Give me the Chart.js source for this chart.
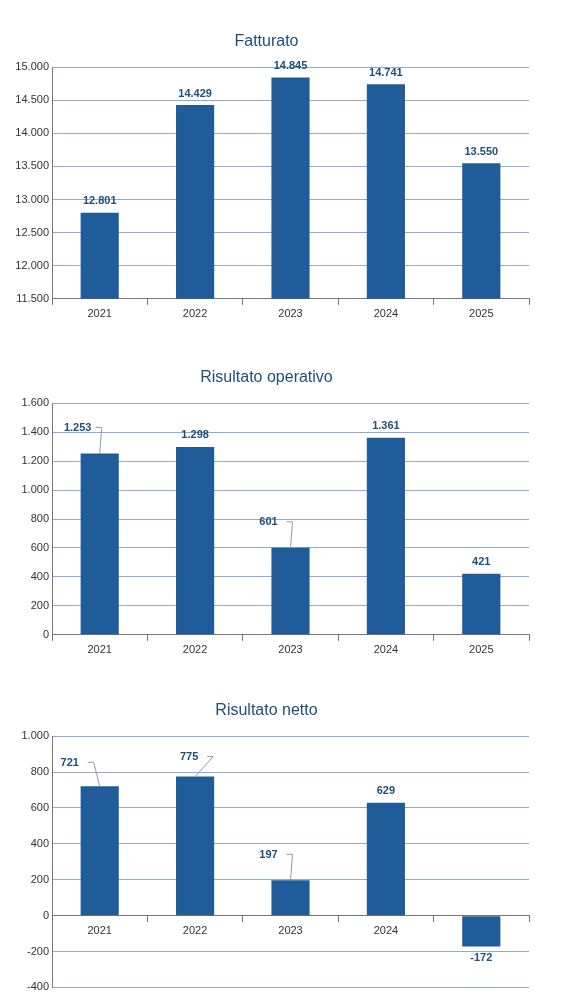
<!DOCTYPE html>
<html><head><meta charset="utf-8">
<script src="https://cdn.jsdelivr.net/npm/chart.js@4"></script>
<style>
body{margin:0;background:#fff;font-family:"Liberation Sans",Arial,sans-serif}
.box{position:absolute;left:0;width:579px}
</style></head><body>
<div class="box" style="top:28px;height:300px"><canvas id="c1"></canvas></div>
<div class="box" style="top:364px;height:300px"><canvas id="c2"></canvas></div>
<div class="box" style="top:697px;height:300px"><canvas id="c3"></canvas></div>
<script>
const years = ['2021', '2022', '2023', '2024', '2025'];
const fatturato = [12801, 14429, 14845, 14741, 13550];
const operativo = [1253, 1298, 601, 1361, 421];
const netto = [721, 775, 197, 629, -172];
// label offsets (leader lines) per chart, in px [dx, dy]
const off1 = [[0,0],[0,0],[0,0],[0,0],[0,0]];
const off2 = [[-22,-14],[0,0],[-22,-14],[0,0],[0,0]];
const off3 = [[-30,-12],[-6,-8],[-22,-14],[0,0],[0,0]];

const fmt = v => Math.abs(v).toLocaleString('de-DE').replace(/^/, v < 0 ? '-' : '');
const blue = '#1f5c99';
const gridCol = '#8eaad6';

const labelPlugin = {
  id: 'barLabels',
  afterDatasetsDraw(chart, args, opts) {
    const ctx = chart.ctx;
    const meta = chart.getDatasetMeta(0);
    const data = chart.data.datasets[0].data;
    ctx.save();
    ctx.font = 'bold 11px "Liberation Sans", Arial';
    ctx.fillStyle = '#1f4e79';
    ctx.textAlign = 'center';
    meta.data.forEach((bar, i) => {
      const v = data[i];
      const [dx, dy] = opts.offsets[i];
      if (v < 0) {
        ctx.textBaseline = 'top';
        ctx.fillText(fmt(v), bar.x, bar.y + 6);
        return;
      }
      ctx.textBaseline = 'bottom';
      const tx = bar.x + dx, ty = bar.y - 6 + dy;
      ctx.fillText(fmt(v), tx, ty);
      if (dx || dy) {
        ctx.strokeStyle = '#999';
        ctx.lineWidth = 1;
        ctx.beginPath();
        ctx.moveTo(tx + 18, ty - 6);
        ctx.lineTo(tx + 24, ty - 6);
        ctx.lineTo(bar.x, bar.y);
        ctx.stroke();
      }
    });
    ctx.restore();
  }
};

function makeChart(id, title, values, min, max, step, offsets, xAtZero) {
  new Chart(document.getElementById(id), {
    type: 'bar',
    data: { labels: years, datasets: [{ data: values, backgroundColor: blue, barPercentage: 0.4, categoryPercentage: 1 }] },
    options: {
      responsive: true, maintainAspectRatio: false, animation: false,
      layout: { padding: { left: 4, right: 50, top: 4, bottom: 4 } },
      plugins: {
        legend: { display: false }, tooltip: { enabled: false },
        title: { display: true, text: title, color: '#1f4e79', font: { size: 16, family: '"Liberation Sans", Arial', weight: 'normal' }, padding: { top: 0, bottom: 16 } },
        barLabels: { offsets: offsets }
      },
      scales: {
        x: {
          position: xAtZero ? { y: 0 } : 'bottom',
          grid: { display: true, drawOnChartArea: false, offset: true, tickLength: 6, color: '#777' },
          border: { color: '#777' },
          ticks: { color: '#333', font: { size: 11 } }
        },
        y: {
          min: min, max: max,
          ticks: { stepSize: step, color: '#333', font: { size: 11 }, callback: v => fmt(v) },
          grid: { color: gridCol, drawTicks: false },
          border: { color: '#777' },
          afterFit: s => { s.width = 48; }
        }
      }
    },
    plugins: [labelPlugin]
  });
}

makeChart('c1', 'Fatturato', fatturato, 11500, 15000, 500, off1, false);
makeChart('c2', 'Risultato operativo', operativo, 0, 1600, 200, off2, false);
makeChart('c3', 'Risultato netto', netto, -400, 1000, 200, off3, true);
</script>
</body></html>
